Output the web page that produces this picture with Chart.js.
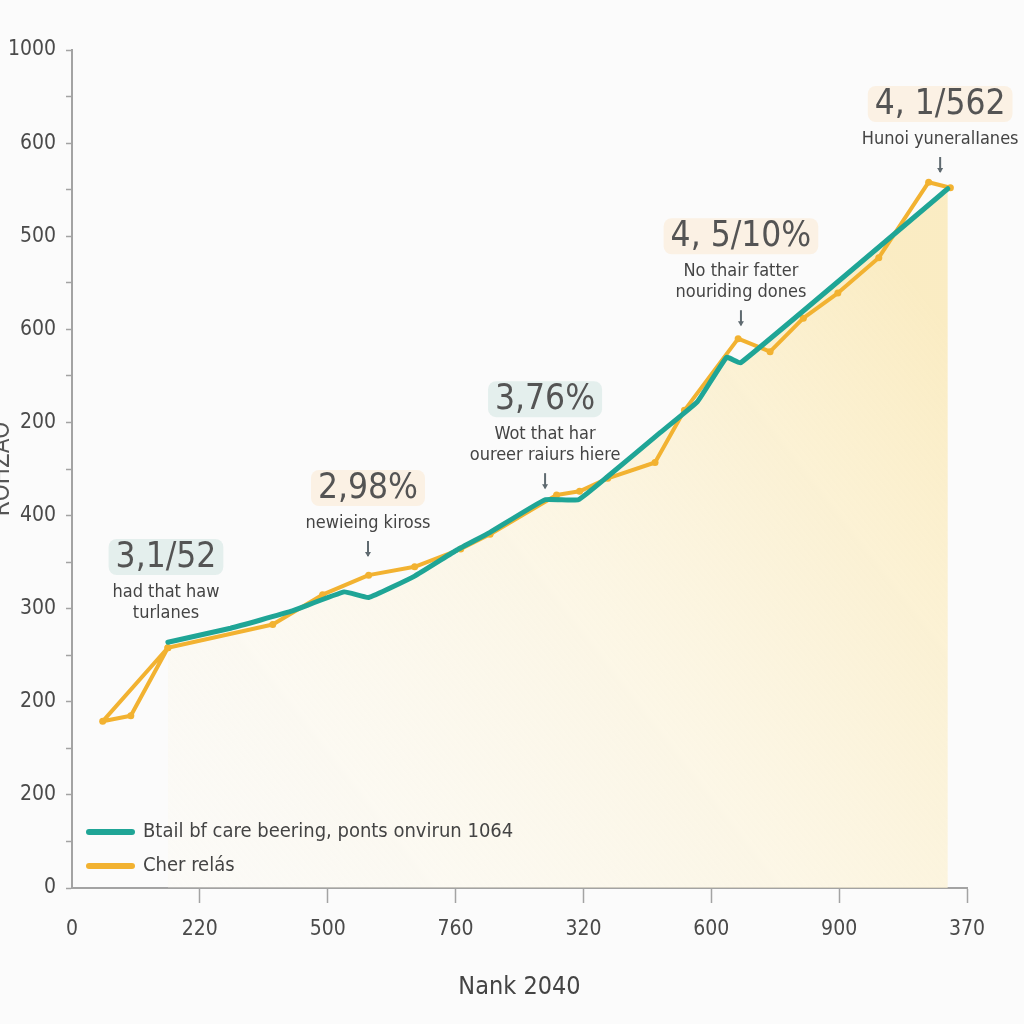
<!DOCTYPE html>
<html>
<head>
<meta charset="utf-8">
<script src="https://cdn.jsdelivr.net/npm/chart.js@4.4.1/dist/chart.umd.min.js"></script>
<style>
  html, body { margin: 0; padding: 0; background: #fbfbfb; }
  #wrap { position: relative; width: 1024px; height: 1024px; }
</style>
</head>
<body>
<div id="wrap"><canvas id="chart" width="1024" height="1024"></canvas></div>
<script>
// tick labels as printed on the picture
const xTickLabels = ["0", "220", "500", "760", "320", "600", "900", "370"];
const yTickLabels = ["0", "200", "200", "300", "400", "200", "600", "500", "600", "1000"];

// teal series (x, y in axis units)
const tealX = [0.75, 1.24, 1.71, 2.13, 2.32, 2.68, 3.01, 3.27, 3.70, 3.96, 4.19, 4.60, 4.89, 5.12, 5.23, 6.85];
const tealY = [2.64, 2.79, 2.97, 3.18, 3.12, 3.35, 3.63, 3.82, 4.17, 4.17, 4.42, 4.89, 5.22, 5.70, 5.64, 7.51];

// yellow series
const yellowX = [0.75, 0.24, 0.46, 0.75, 1.57, 1.96, 2.32, 2.68, 3.04, 3.27, 3.79, 3.97, 4.19, 4.56, 4.79, 5.21, 5.46, 5.72, 5.99, 6.31, 6.70, 6.87];
const yellowY = [2.58, 1.79, 1.85, 2.58, 2.83, 3.15, 3.36, 3.45, 3.64, 3.80, 4.22, 4.26, 4.40, 4.57, 5.13, 5.90, 5.76, 6.12, 6.39, 6.77, 7.58, 7.52];

const seriesNames = ["Btail bf care beering, ponts onvirun 1064", "Cher relás"];

// callouts
const noteHeads = ["3,1/52", "2,98%", "3,76%", "4, 5/10%", "4, 1/562"];
const noteText = [
  ["had that haw", "turlanes"],
  ["newieing kiross"],
  ["Wot that har", "oureer raiurs hiere"],
  ["No thair fatter", "nouriding dones"],
  ["Hunoi yuneralIanes"]
];
const noteX = [0.735, 2.315, 3.70, 5.232, 6.79];
const noteY = [3.555, 4.296, 5.25, 7.00, 8.42];
const noteArrow = [false, true, true, true, true];
const noteTint = ["#e4efed", "#fbf1e4", "#e4efed", "#fbf1e4", "#fbf1e4"];

const TEAL = "#1fa596";
const YELLOW = "#f2b231";
const NARROW = "'Liberation Sans Narrow', 'DejaVu Sans Condensed', sans-serif";

const pts = (xs, ys) => xs.map((x, i) => ({ x: x, y: ys[i] }));

function fillGradient(context) {
  const area = context.chart.chartArea;
  if (!area) return "rgba(251,238,200,0.5)";
  const g = context.chart.ctx.createLinearGradient(area.left + 100, area.bottom, area.right - 40, area.top + 250);
  g.addColorStop(0, "rgba(253,249,236,0.25)");
  g.addColorStop(0.5, "rgba(252,243,216,0.6)");
  g.addColorStop(1, "rgba(250,235,192,0.95)");
  return g;
}

const notesPlugin = {
  id: "notes",
  afterDatasetsDraw(chart) {
    const ctx = chart.ctx;
    const xs = chart.scales.x, ys = chart.scales.y;
    ctx.save();
    noteHeads.forEach((head, i) => {
      const cx = xs.getPixelForValue(noteX[i]);
      const cy = ys.getPixelForValue(noteY[i]);
      ctx.font = "35px " + NARROW;
      const w = ctx.measureText(head).width + 14;
      const h = 36;
      ctx.fillStyle = noteTint[i];
      ctx.beginPath();
      ctx.roundRect(cx - w / 2, cy - h / 2, w, h, 8);
      ctx.fill();
      ctx.fillStyle = "#545454";
      ctx.textAlign = "center";
      ctx.textBaseline = "middle";
      ctx.fillText(head, cx, cy + 1);
      ctx.font = "18px " + NARROW;
      ctx.fillStyle = "#444";
      let ly = cy + 35;
      noteText[i].forEach((line, j) => {
        ctx.fillText(line, cx, ly + j * 21);
      });
      ly += (noteText[i].length - 1) * 21;
      if (noteArrow[i]) {
        const a0 = ly + 18, a1 = ly + 33;
        ctx.strokeStyle = "#5f6a70";
        ctx.lineWidth = 2;
        ctx.beginPath();
        ctx.moveTo(cx, a0);
        ctx.lineTo(cx, a1);
        ctx.stroke();
        ctx.fillStyle = "#5f6a70";
        ctx.beginPath();
        ctx.moveTo(cx - 3, a1 - 4);
        ctx.lineTo(cx + 3, a1 - 4);
        ctx.lineTo(cx, a1 + 1);
        ctx.closePath();
        ctx.fill();
      }
    });
    ctx.restore();
  }
};

const legendPlugin = {
  id: "innerLegend",
  afterDraw(chart) {
    const ctx = chart.ctx;
    const area = chart.chartArea;
    ctx.save();
    chart.data.datasets.forEach((ds, i) => {
      const y = area.bottom - 56 + i * 34;
      ctx.strokeStyle = ds.borderColor;
      ctx.lineWidth = 6;
      ctx.lineCap = "round";
      ctx.beginPath();
      ctx.moveTo(area.left + 17, y);
      ctx.lineTo(area.left + 60, y);
      ctx.stroke();
      ctx.fillStyle = "#444";
      ctx.font = "20px " + NARROW;
      ctx.textAlign = "left";
      ctx.textBaseline = "middle";
      ctx.fillText(ds.label, area.left + 71, y);
    });
    ctx.restore();
  }
};

new Chart(document.getElementById("chart"), {
  type: "line",
  data: {
    datasets: [
      {
        label: seriesNames[0],
        data: pts(tealX, tealY),
        borderColor: TEAL,
        backgroundColor: fillGradient,
        borderWidth: 5,
        tension: 0.1,
        pointRadius: 0,
        fill: "origin",
        order: 0
      },
      {
        label: seriesNames[1],
        data: pts(yellowX, yellowY),
        borderColor: YELLOW,
        borderWidth: 4,
        tension: 0,
        pointRadius: 3.5,
        pointBackgroundColor: YELLOW,
        pointBorderWidth: 0,
        fill: false,
        order: 1
      }
    ]
  },
  options: {
    responsive: false,
    animation: false,
    layout: { padding: { left: 0, top: 50, right: 57, bottom: 0 } },
    plugins: { legend: { display: false }, tooltip: { enabled: false }, filler: { drawTime: "beforeDatasetsDraw" } },
    elements: { line: { borderJoinStyle: "round", borderCapStyle: "round" } },
    scales: {
      x: {
        type: "linear",
        min: 0,
        max: 7,
        afterFit(scale) { scale.height = 136; },
        border: { display: true, color: "#a3a3a3", width: 2 },
        grid: {
          drawOnChartArea: false,
          tickLength: 15,
          tickWidth: 1.5,
          tickColor: (c) => (c.index === 0 ? "rgba(0,0,0,0)" : "#a3a3a3")
        },
        ticks: {
          stepSize: 1,
          padding: 14,
          color: "#4a4a4a",
          font: { family: NARROW, size: 21 },
          callback: (v) => xTickLabels[v]
        },
        title: {
          display: true,
          text: "Nank 2040",
          color: "#444",
          font: { family: NARROW, size: 25 },
          padding: { top: 0, bottom: 22 }
        }
      },
      y: {
        type: "linear",
        min: 0,
        max: 9,
        afterFit(scale) { scale.width = 72; },
        border: { display: true, color: "#a3a3a3", width: 2 },
        grid: { drawOnChartArea: false, tickLength: 6, tickWidth: 1.5, tickColor: "#a3a3a3" },
        ticks: {
          stepSize: 0.5,
          autoSkip: false,
          padding: 10,
          color: "#4a4a4a",
          font: { family: NARROW, size: 21 },
          callback: (v) => (Number.isInteger(v) ? yTickLabels[v] : "")
        },
        title: {
          display: true,
          text: "ROHZAO",
          color: "#555",
          font: { family: NARROW, size: 24 },
          padding: { top: -12, bottom: 0 }
        }
      }
    }
  },
  plugins: [notesPlugin, legendPlugin]
});
</script>
</body>
</html>
